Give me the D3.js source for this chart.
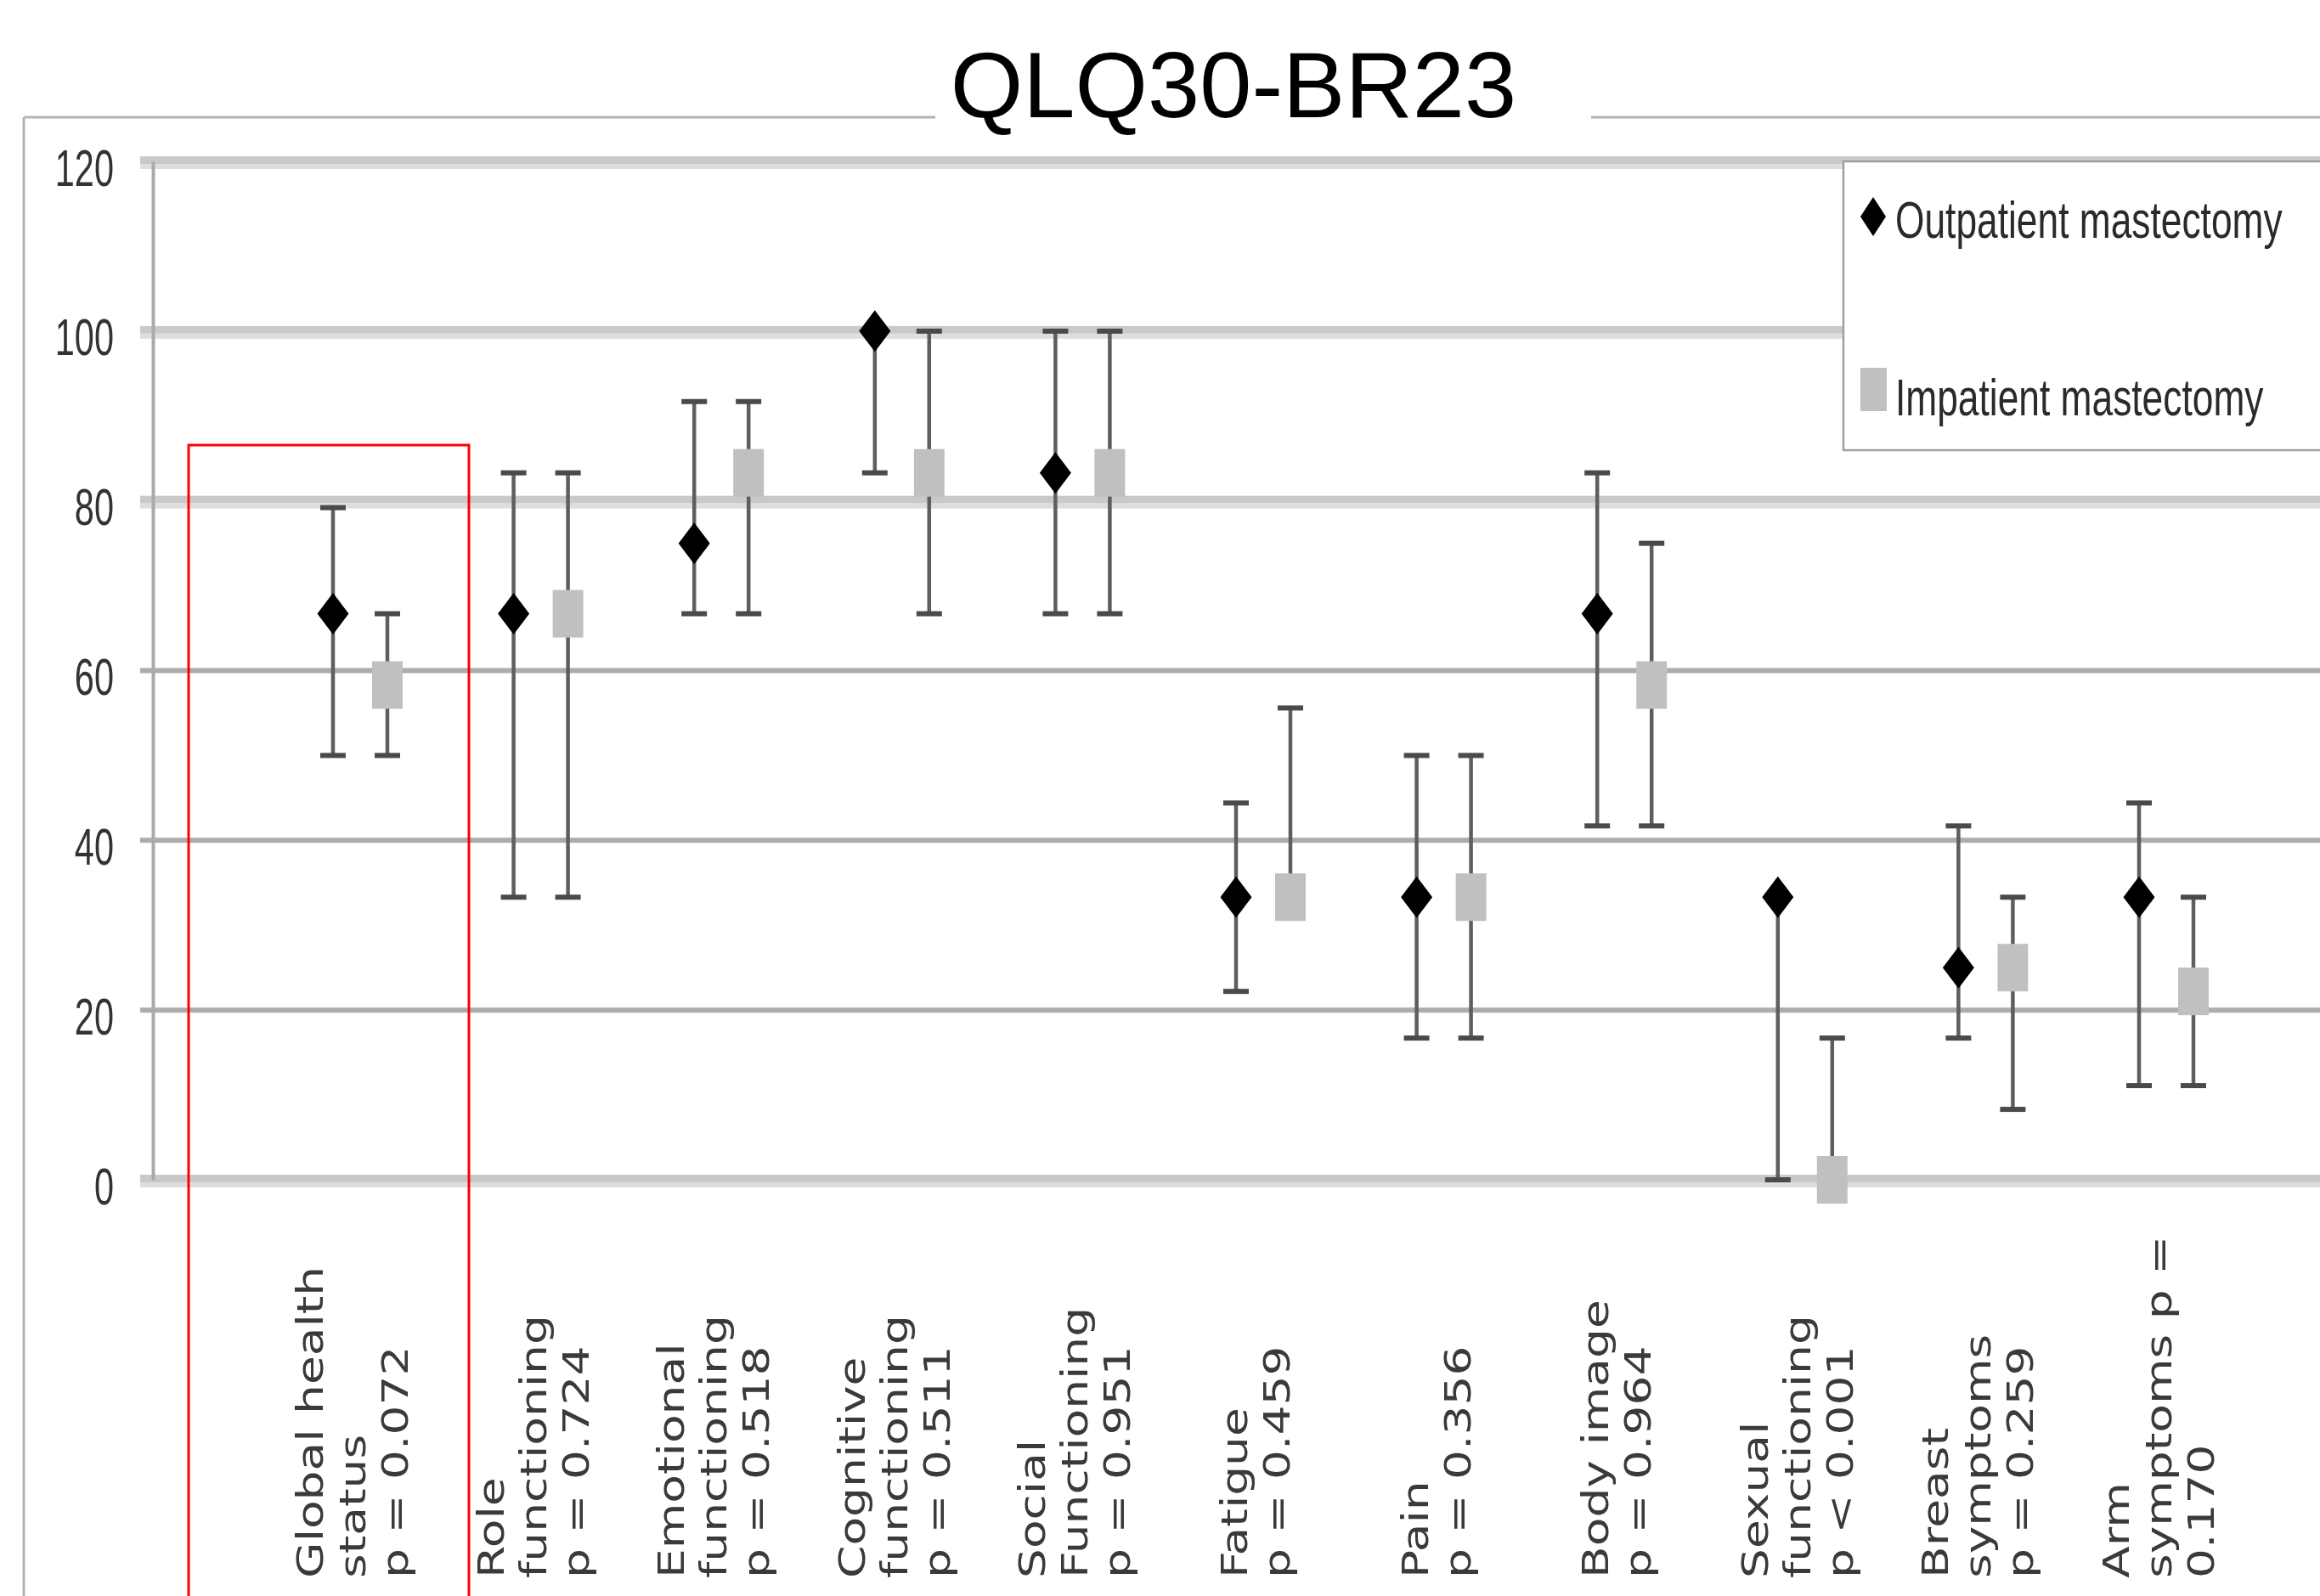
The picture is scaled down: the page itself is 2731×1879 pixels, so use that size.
<!DOCTYPE html>
<html>
<head>
<meta charset="utf-8">
<script src="https://cdn.jsdelivr.net/npm/d3@7"></script>
<style>
  html, body { margin: 0; padding: 0; background: #ffffff; }
  svg { display: block; }
</style>
</head>
<body>
<script>
// ---------------- DATA ----------------
const categories = ["Global health", "Role", "Emotional", "Cognitive", "Social", "Fatigue",
                    "Pain", "Body image", "Sexual", "Breast", "Arm"];
const categoryLabels = [
  ["Global health", "status", "p = 0.072"],
  ["Role", "functioning", "p = 0.724"],
  ["Emotional", "functioning", "p = 0.518"],
  ["Cognitive", "functioning", "p = 0.511"],
  ["Social", "Functioning", "p = 0.951"],
  ["Fatigue", "p = 0.459"],
  ["Pain", "p = 0.356"],
  ["Body image", "p = 0.964"],
  ["Sexual", "functioning", "p < 0.001"],
  ["Breast", "symptoms", "p = 0.259"],
  ["Arm", "symptoms p =", "0.170"]
];
const seriesNames = ["Outpatient mastectomy", "Impatient mastectomy"];
const outMean = [66.7, 66.7, 75.0, 100, 83.3, 33.3, 33.3, 66.7, 33.3, 25.0, 33.3];
const outHigh = [79.2, 83.3, 91.7, 100, 100, 44.4, 50.0, 83.3, 33.3, 41.7, 44.4];
const outLow  = [50.0, 33.3, 66.7, 83.3, 66.7, 22.2, 16.7, 41.7, 0, 16.7, 11.1];
const inMean  = [58.3, 66.7, 83.3, 83.3, 83.3, 33.3, 33.3, 58.3, 0, 25.0, 22.2];
const inHigh  = [66.7, 83.3, 91.7, 100, 100, 55.6, 50.0, 75.0, 16.7, 33.3, 33.3];
const inLow   = [50.0, 33.3, 66.7, 66.7, 66.7, 33.3, 16.7, 41.7, 0, 8.3, 11.1];
const yTicks = [0, 20, 40, 60, 80, 100, 120];
const titleText = "QLQ30-BR23";

// ---------------- LAYOUT ----------------
const W = 2731, H = 1879;
const svg = d3.select("body").append("svg").attr("width", W).attr("height", H);

const y = d3.scaleLinear().domain([0, 120]).range([1389, 190]);
const x = d3.scalePoint().domain(categories).range([424, 2550]);
const off = 32;

// outer frame
svg.append("line").attr("x1", 28).attr("x2", W).attr("y1", 138).attr("y2", 138)
  .attr("stroke", "#b4b4b4").attr("stroke-width", 3);
svg.append("line").attr("x1", 28).attr("x2", 28).attr("y1", 138).attr("y2", H)
  .attr("stroke", "#b4b4b4").attr("stroke-width", 3);

// gridlines
const thick = new Set([0, 80, 100, 120]);
const grid = svg.append("g");
yTicks.forEach(t => {
  if (thick.has(t)) {
    grid.append("rect").attr("x", 165).attr("width", W - 165)
      .attr("y", y(t) - 6).attr("height", 9).attr("fill", "#c9c9c9");
    grid.append("rect").attr("x", 165).attr("width", W - 165)
      .attr("y", y(t) + 3).attr("height", 6).attr("fill", "#dedede");
  } else {
    grid.append("line").attr("x1", 165).attr("x2", W)
      .attr("y1", y(t)).attr("y2", y(t))
      .attr("stroke", "#acacac").attr("stroke-width", 6);
  }
});

// y axis
const yAxis = svg.append("g").attr("transform", "translate(180,0)")
  .call(d3.axisLeft(y).tickValues(yTicks).tickSize(0).tickSizeOuter(0).tickPadding(46));
yAxis.select(".domain").attr("stroke", "#aaaaaa").attr("stroke-width", 4);
yAxis.selectAll(".tick text")
  .attr("font-family", "'Liberation Sans', Arial, sans-serif")
  .attr("font-size", 61)
  .attr("fill", "#333")
  .attr("dy", 0)
  .attr("x", 0)
  .attr("transform", "translate(-46,28) scale(0.68,1)");

// red highlight box
svg.append("rect").attr("x", 222).attr("y", 524).attr("width", 330).attr("height", 1500)
  .attr("fill", "none").attr("stroke", "#ff0000").attr("stroke-width", 3);

// error bars
const series = [
  { key: "out", mean: outMean, low: outLow, high: outHigh, dx: -off },
  { key: "in",  mean: inMean,  low: inLow,  high: inHigh,  dx: off }
];
const bars = svg.append("g");
series.forEach(s => {
  categories.forEach((c, i) => {
    const cx = x(c) + s.dx;
    bars.append("line").attr("x1", cx).attr("x2", cx)
      .attr("y1", y(s.low[i])).attr("y2", y(s.high[i]))
      .attr("stroke", "#5e5e5e").attr("stroke-width", 4.5);
    [s.low[i], s.high[i]].forEach(v => {
      bars.append("line").attr("x1", cx - 15).attr("x2", cx + 15)
        .attr("y1", y(v)).attr("y2", y(v))
        .attr("stroke", "#4a4a4a").attr("stroke-width", 6);
    });
  });
});

// markers
const diamondPath = (w, h) => `M0,${-h/2}L${w/2},0L0,${h/2}L${-w/2},0Z`;
const marks = svg.append("g");
categories.forEach((c, i) => {
  marks.append("path").attr("d", diamondPath(37, 49))
    .attr("transform", `translate(${x(c) - off},${y(outMean[i])})`)
    .attr("fill", "#000");
  marks.append("rect").attr("x", x(c) + off - 18).attr("y", y(inMean[i]) - 28)
    .attr("width", 36).attr("height", 56).attr("fill", "#c0c0c0");
});

// category labels (rotated)
const labG = svg.append("g");
categories.forEach((c, i) => {
  const lines = categoryLabels[i];
  const n = lines.length;
  lines.forEach((t, j) => {
    const colCenter = x(c) - 9 + (j - (n - 1) / 2) * 50;
    const bx = colCenter + 15;
    labG.append("text")
      .attr("transform", `translate(${bx},1858) rotate(-90) scale(1.28,1)`)
      .attr("font-family", "'DejaVu Sans', Verdana, sans-serif")
      .attr("font-size", 43)
      .attr("fill", "#3a3a3a")
      .attr("text-anchor", "start")
      .text(t);
  });
});

// legend
const leg = svg.append("g");
leg.append("rect").attr("x", 2170).attr("y", 190).attr("width", 700).attr("height", 340)
  .attr("fill", "#fff").attr("stroke", "#a0a0a0").attr("stroke-width", 2.5);
leg.append("path").attr("d", diamondPath(30, 46))
  .attr("transform", "translate(2205,255)").attr("fill", "#000");
leg.append("rect").attr("x", 2190).attr("y", 433).attr("width", 31).attr("height", 51)
  .attr("fill", "#c0c0c0");
[[seriesNames[0], 280], [seriesNames[1], 489]].forEach(([t, by]) => {
  leg.append("text")
    .attr("transform", `translate(2231,${by}) scale(0.715,1)`)
    .attr("font-family", "'Liberation Sans', Arial, sans-serif")
    .attr("font-size", 62)
    .attr("fill", "#2a2a2a")
    .text(t);
});

// title
svg.append("rect").attr("x", 1101).attr("y", 60).attr("width", 772).attr("height", 124)
  .attr("fill", "#fff");
svg.append("text").attr("x", 1452).attr("y", 138)
  .attr("text-anchor", "middle")
  .attr("font-family", "'Liberation Sans', Arial, sans-serif")
  .attr("font-size", 110)
  .attr("fill", "#000")
  .text(titleText);
</script>
</body>
</html>
